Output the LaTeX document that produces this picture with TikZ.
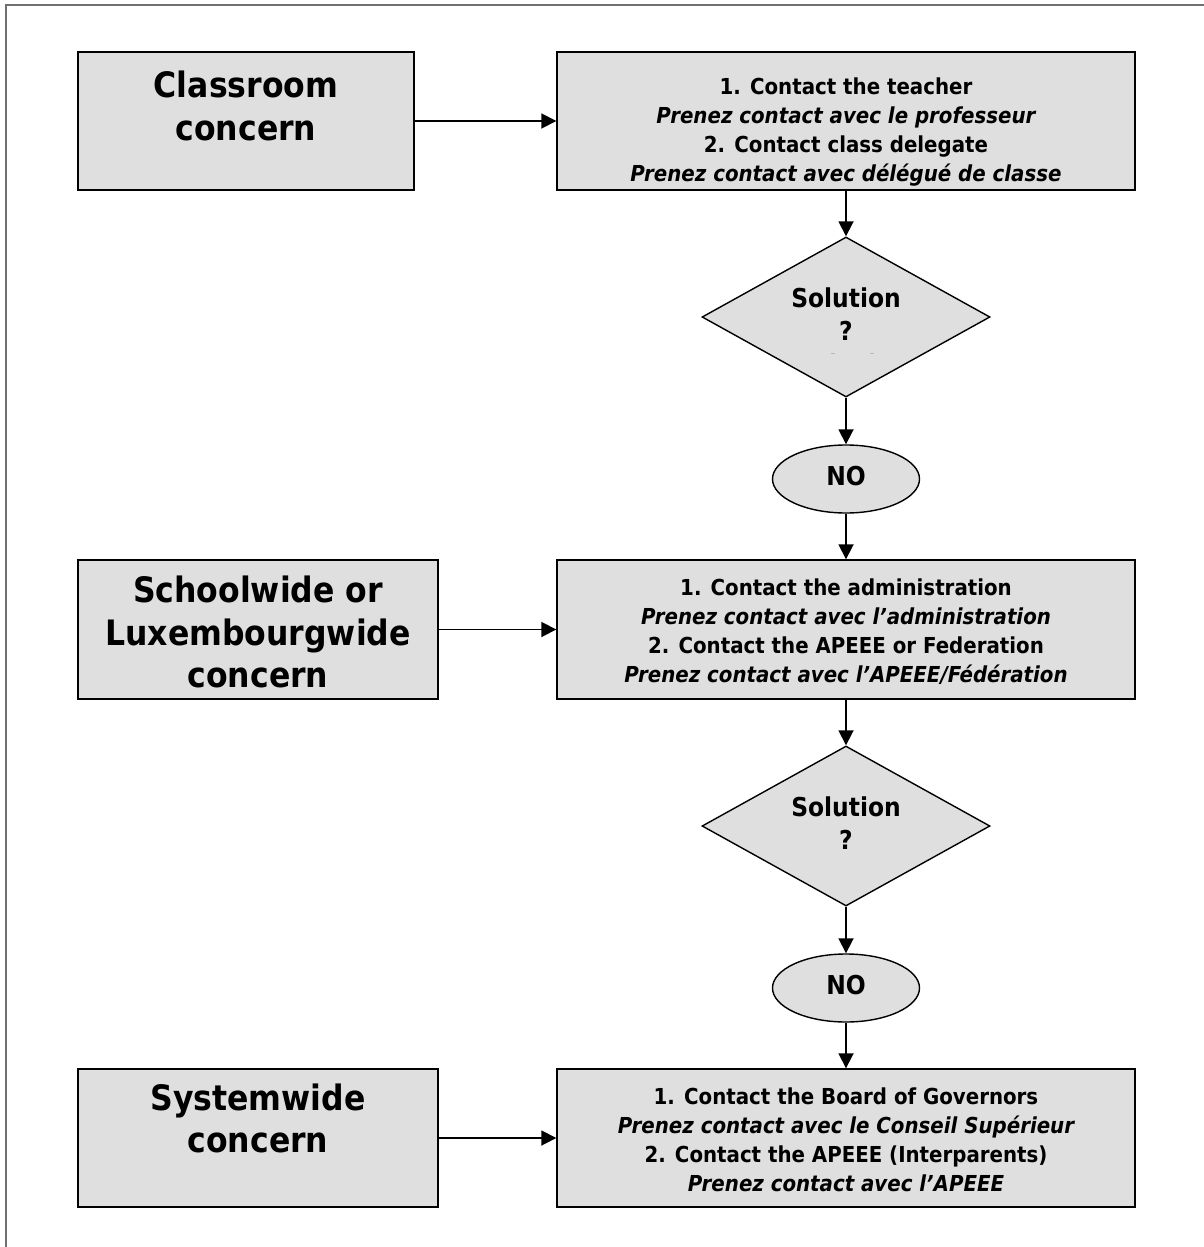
\documentclass[tikz,border=0pt]{standalone}
\usepackage{fontspec}
\setmainfont{DejaVu Sans Condensed}
\usetikzlibrary{shapes.geometric,arrows.meta}
\definecolor{boxgray}{RGB}{223,223,223}
\definecolor{framegray}{RGB}{112,112,112}
\newcommand\txtshift[2]{\raisebox{#1}[\height][\depth]{\begin{tabular}{@{}c@{}}#2\end{tabular}}}
\tikzset{
  shapebase/.style={draw=black, line width=0.7pt, fill=boxgray, inner sep=0pt, align=center},
  leftbox/.style={shapebase, rectangle, minimum height=69pt,
    font=\fontsize{17.5pt}{21.2pt}\selectfont\bfseries},
  rightbox/.style={shapebase, rectangle, minimum width=289pt, minimum height=69pt,
    font=\fontsize{11pt}{14.5pt}\selectfont\bfseries},
  decision/.style={shapebase, diamond, aspect=1.8, minimum width=144pt, minimum height=80pt,
    font=\fontsize{13pt}{16.5pt}\selectfont\bfseries},
  answer/.style={shapebase, ellipse, minimum width=73.5pt, minimum height=34pt,
    font=\fontsize{13pt}{16.5pt}\selectfont\bfseries},
  conn/.style={line width=0.9pt, -{Triangle[length=7.5pt,width=7.5pt]}},
}
\begin{document}
\begin{tikzpicture}[x=0.5pt,y=-0.5pt]
\useasboundingbox (0,0) rectangle (1204,1247);
\draw[framegray, line width=1pt] (6,1247) -- (6,5) -- (1204,5);

\node[leftbox, minimum width=168pt] (L1) at (246,121)
  {\txtshift{5.2pt}{Classroom\\concern}};
\node[rightbox] (R1) at (846,121)
  {\txtshift{-5.6pt}{1. Contact the teacher\\
   \itshape Prenez contact avec le professeur\\
   2. Contact class delegate\\
   \itshape Prenez contact avec délégué de classe}};
\node[decision] (D1) at (846,317) {\txtshift{0pt}{Solution\\?}};
\node[answer] (E1) at (846,479) {\txtshift{0pt}{NO}};

\node[leftbox, minimum width=180pt, minimum height=69.5pt] (L2) at (258,629.5)
  {\txtshift{-3.7pt}{Schoolwide or\\Luxembourgwide\\concern}};
\node[rightbox, minimum height=69.5pt] (R2) at (846,629.5)
  {\txtshift{-1.6pt}{1. Contact the administration\\
   \itshape Prenez contact avec l’administration\\
   2. Contact the APEEE or Federation\\
   \itshape Prenez contact avec l’APEEE/Fédération}};
\node[decision] (D2) at (846,826) {\txtshift{0pt}{Solution\\?}};
\node[answer] (E2) at (846,988) {\txtshift{0pt}{NO}};

\node[leftbox, minimum width=180pt] (L3) at (258,1138)
  {\txtshift{7.5pt}{Systemwide\\concern}};
\node[rightbox] (R3) at (846,1138)
  {\txtshift{-2pt}{1. Contact the Board of Governors\\
   \itshape Prenez contact avec le Conseil Supérieur\\
   2. Contact the APEEE (Interparents)\\
   \itshape Prenez contact avec l’APEEE}};

% small marks inside first decision
\draw[gray!55, line width=0.5pt] (831,353) -- (835,353);
\draw[gray!55, line width=0.5pt] (870,353) -- (874,353);

\draw[conn] (L1) -- (R1);
\draw[conn] (L2) -- (R2);
\draw[conn] (L3) -- (R3);
\draw[conn] (R1) -- (D1);
\draw[conn] (D1) -- (E1);
\draw[conn] (E1) -- (R2);
\draw[conn] (R2) -- (D2);
\draw[conn] (D2) -- (E2);
\draw[conn] (E2) -- (R3);
\end{tikzpicture}
\end{document}
